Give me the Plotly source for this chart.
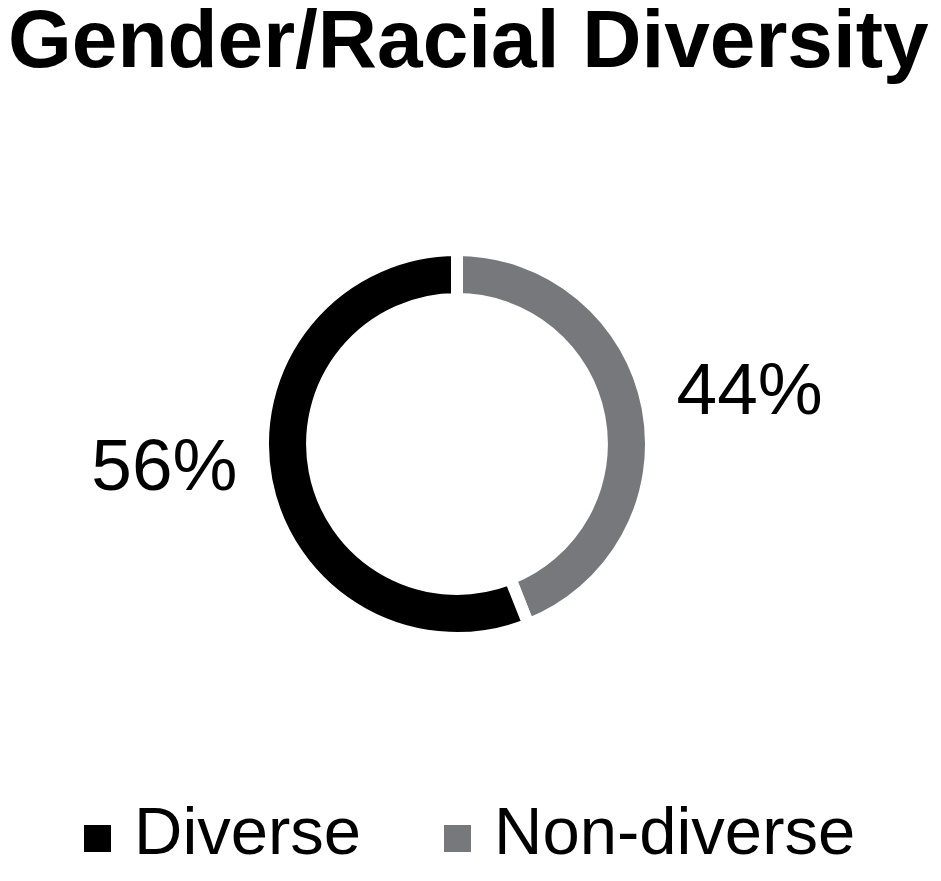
import plotly.graph_objects as go

labels = ["Diverse", "Non-diverse"]
values = [56, 44]
colors = ["#000000", "#77787b"]
title_text = "Gender/Racial Diversity"

FONT = "Liberation Sans, Arial, Helvetica, sans-serif"

W, H = 941, 881
# page body offset of the rendered figure (default html body margin)
OX, OY = 8, 8
L, R, T, B = 0, 43, 242, 251
PW, PH = W - L - R, H - T - B


def px_to_paper_x(px):
    # px: target position on the screenshot
    return (px - OX - L) / PW


def px_to_paper_y(py):
    return (H - B - (py - OY)) / PH


# pie drawn clockwise from 12 o'clock: Non-diverse first (right), Diverse fills the left
order = [1, 0]
fig = go.Figure(
    go.Pie(
        labels=[labels[i] for i in order],
        values=[values[i] for i in order],
        hole=0.747,
        sort=False,
        direction="clockwise",
        rotation=0,
        marker=dict(colors=[colors[i] for i in order], line=dict(color="white", width=12)),
        # big percentage on the first line, a small blank line below lifts it a little
        texttemplate="<span style='font-size:73px'>%{percent:.0%}</span><br>\u00a0",
        textposition="outside",
        outsidetextfont=dict(family=FONT, size=33, color="black"),
        hoverinfo="label+percent",
        showlegend=False,
    )
)

# legend at the bottom (square swatch + real text)
legend_square_left = [84, 444]
legend_text_left = [137, 497]
sq = 27
sq_top, sq_bottom = 825, 852
shapes = []
annotations = []
for i, (lab, col) in enumerate(zip(labels, colors)):
    shapes.append(
        dict(
            type="rect",
            xref="paper",
            yref="paper",
            x0=px_to_paper_x(legend_square_left[i]),
            x1=px_to_paper_x(legend_square_left[i] + sq),
            y0=px_to_paper_y(sq_bottom),
            y1=px_to_paper_y(sq_top),
            fillcolor=col,
            line=dict(width=0),
        )
    )
    annotations.append(
        dict(
            text=lab,
            xref="paper",
            yref="paper",
            x=px_to_paper_x(legend_text_left[i] - 5),
            y=px_to_paper_y(830),
            xanchor="left",
            yanchor="middle",
            showarrow=False,
            font=dict(family=FONT, size=67, color="black"),
        )
    )

fig.update_layout(
    width=W,
    height=H,
    paper_bgcolor="white",
    plot_bgcolor="white",
    margin=dict(l=L, r=R, t=T, b=B, autoexpand=False),
    font=dict(family=FONT, color="black"),
    showlegend=False,
    shapes=shapes,
    annotations=annotations,
    title=dict(
        text="<b>" + title_text + "</b>",
        font=dict(family=FONT, size=82, color="black"),
        x=0,
        xref="container",
        xanchor="left",
        y=1.0,
        yref="container",
        yanchor="top",
        pad=dict(t=2, b=0, l=0, r=0),
    ),
)

fig.write_html("out.html")
